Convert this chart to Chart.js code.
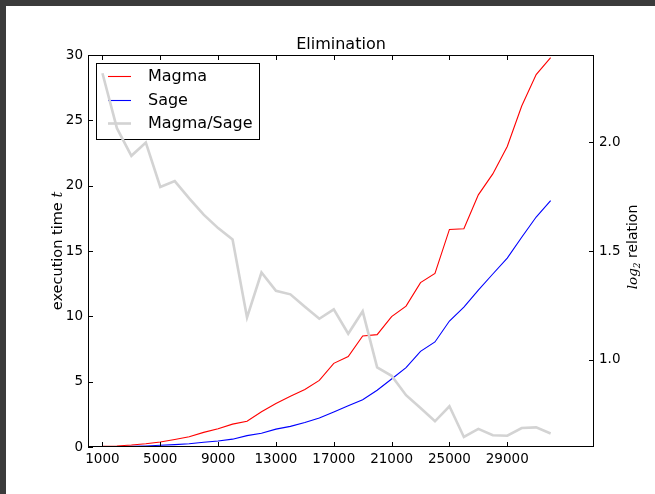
<!DOCTYPE html>
<html>
<head>
<meta charset="utf-8">
<script src="https://cdn.jsdelivr.net/npm/chart.js@4"></script>
<style>
  html, body { margin: 0; padding: 0; background: #fff; }
  canvas { display: block; }
</style>
</head>
<body>
<canvas id="chart" width="655" height="494"></canvas>
<script>
// === DATA ===
const sizes = [1000, 2000, 3000, 4000, 5000, 6000, 7000, 8000, 9000, 10000,
    11000, 12000, 13000, 14000, 15000, 16000, 17000, 18000, 19000, 20000,
    21000, 22000, 23000, 24000, 25000, 26000, 27000, 28000, 29000, 30000,
    31000, 32000];
const magmaTimes = [0.05, 0.08, 0.15, 0.25, 0.38, 0.58, 0.79, 1.12, 1.4, 1.75,
    1.97, 2.7, 3.33, 3.88, 4.4, 5.1, 6.4, 6.93, 8.5, 8.6,
    9.98, 10.78, 12.58, 13.28, 16.65, 16.7, 19.3, 20.9, 23.0, 26.1,
    28.5, 29.8];
const sageTimes = [0.01, 0.02, 0.05, 0.08, 0.13, 0.18, 0.25, 0.36, 0.46, 0.6,
    0.87, 1.05, 1.37, 1.58, 1.87, 2.22, 2.68, 3.16, 3.62, 4.34,
    5.2, 6.07, 7.32, 8.04, 9.64, 10.7, 12.0, 13.24, 14.46, 16.05,
    17.6, 18.85];
const logRelation = [2.316, 2.064, 1.937, 1.998, 1.794, 1.821, 1.742, 1.667, 1.605, 1.553,
    1.195, 1.401, 1.317, 1.301, 1.244, 1.189, 1.232, 1.12, 1.223, 0.966,
    0.927, 0.838, 0.779, 0.718, 0.787, 0.646, 0.683, 0.654, 0.652, 0.687,
    0.69, 0.662];
const xTicks = [1000, 5000, 9000, 13000, 17000, 21000, 25000, 29000];
const yTicks = [0, 5, 10, 15, 20, 25, 30];
const y2Ticks = [1.0, 1.5, 2.0];

const FONT = "'DejaVu Sans', sans-serif";
const MATH = "'DejaVu Serif', 'Liberation Serif', serif";

// === DECORATIONS: frame, inward ticks, title, axis titles, legend ===
const decor = {
    id: "decor",
    beforeDraw(chart) {
        const c = chart.ctx;
        c.save();
        c.fillStyle = "#fff";
        c.fillRect(0, 0, chart.width, chart.height);
        c.fillStyle = "#3b3b3b";
        c.fillRect(0, 0, chart.width, 6);
        c.fillRect(0, 0, 6, chart.height);
        c.restore();
    },
    // legend belongs to the first axes, so the twin (gray) line is drawn over it
    beforeDatasetsDraw(chart) {
        const c = chart.ctx;
        c.save();
        const lx = 96, ly = 63, lw = 163, lh = 76;
        c.fillStyle = "#fff";
        c.fillRect(lx, ly, lw, lh);
        c.strokeStyle = "#000";
        c.lineWidth = 1;
        c.strokeRect(lx + 0.5, ly + 0.5, lw, lh);
        c.font = "16px " + FONT;
        c.textAlign = "left";
        c.textBaseline = "middle";
        chart.data.datasets.forEach((ds, i) => {
            const ry = Math.round(76 + i * 23.5) + 0.5;
            c.strokeStyle = ds.borderColor;
            c.lineWidth = ds.borderWidth;
            c.beginPath();
            c.moveTo(108, ry); c.lineTo(131, ry);
            c.stroke();
            c.fillStyle = "#000";
            c.fillText(ds.label, 148, ry);
        });
        c.restore();
    },
    afterDraw(chart) {
        const c = chart.ctx;
        const a = chart.chartArea;
        const x = chart.scales.x, y = chart.scales.y, y2 = chart.scales.y2;
        c.save();
        c.strokeStyle = "#000";
        c.lineWidth = 1;
        c.strokeRect(Math.round(a.left) + 0.5, Math.round(a.top) + 0.5,
            Math.round(a.right - a.left) - 1, Math.round(a.bottom - a.top) - 1);

        // ticks pointing inward
        c.beginPath();
        x.ticks.forEach(t => {
            const px = Math.round(x.getPixelForValue(t.value)) + 0.5;
            c.moveTo(px, a.bottom); c.lineTo(px, a.bottom - 5);
            c.moveTo(px, a.top); c.lineTo(px, a.top + 5);
        });
        y.ticks.forEach(t => {
            const py = Math.round(y.getPixelForValue(t.value)) + 0.5;
            c.moveTo(a.left, py); c.lineTo(a.left + 5, py);
        });
        y2.ticks.forEach(t => {
            const py = Math.round(y2.getPixelForValue(t.value)) + 0.5;
            c.moveTo(a.right, py); c.lineTo(a.right - 5, py);
        });
        c.stroke();

        // title
        c.fillStyle = "#000";
        c.font = "16px " + FONT;
        c.textAlign = "center";
        c.textBaseline = "alphabetic";
        c.fillText("Elimination", (a.left + a.right) / 2, 49);

        // left axis title: execution time t
        c.save();
        c.translate(62, (a.top + a.bottom) / 2);
        c.rotate(-Math.PI / 2);
        c.textAlign = "left";
        c.font = "14.5px " + FONT;
        const p1 = "execution time ";
        const w1 = c.measureText(p1).width;
        c.font = "italic 14.5px " + MATH;
        const w2 = c.measureText("t").width;
        let sx = -(w1 + w2) / 2;
        c.font = "14.5px " + FONT;
        c.fillText(p1, sx, 0);
        c.font = "italic 14.5px " + MATH;
        c.fillText("t", sx + w1, 0);
        c.restore();

        // right axis title: log2 relation
        c.save();
        c.translate(637, (a.top + a.bottom) / 2 - 4);
        c.rotate(-Math.PI / 2);
        c.textAlign = "left";
        c.font = "italic 13.5px " + MATH;
        const wl = c.measureText("log").width;
        c.font = "italic 9px " + MATH;
        const ws = c.measureText("2").width;
        c.font = "14px " + FONT;
        const wr = c.measureText(" relation").width;
        sx = -(wl + ws + wr) / 2;
        c.font = "italic 13.5px " + MATH;
        c.fillText("log", sx, 0);
        c.font = "italic 9px " + MATH;
        c.fillText("2", sx + wl, 3);
        c.font = "14px " + FONT;
        c.fillText(" relation", sx + wl + ws, 0);
        c.restore();
        c.restore();
    }
};

const ctx = document.getElementById("chart").getContext("2d");
const toPoints = vals => vals.map((v, i) => ({ x: sizes[i], y: v }));

new Chart(ctx, {
    type: "line",
    data: {
        datasets: [
            { label: "Magma", data: toPoints(magmaTimes), yAxisID: "y",
              borderColor: "#ff0000", borderWidth: 1.1, order: 1 },
            { label: "Sage", data: toPoints(sageTimes), yAxisID: "y",
              borderColor: "#0000ff", borderWidth: 1.1, order: 1 },
            { label: "Magma/Sage", data: toPoints(logRelation), yAxisID: "y2",
              borderColor: "#d3d3d3", borderWidth: 2.6, order: 0 }
        ]
    },
    options: {
        responsive: false,
        animation: false,
        devicePixelRatio: 1,
        layout: { padding: { top: 55, left: 0, right: 0, bottom: 0 } },
        elements: { point: { radius: 0 }, line: { tension: 0 } },
        plugins: { legend: { display: false }, title: { display: false }, tooltip: { enabled: false } },
        scales: {
            x: {
                type: "linear", min: 0, max: 35000,
                grid: { display: false, drawTicks: false },
                border: { display: false },
                afterBuildTicks: s => { s.ticks = xTicks.map(v => ({ value: v })); },
                afterFit: s => { s.height = 47; },
                ticks: { padding: 4, color: "#000", font: { family: FONT, size: 13.5 },
                    maxRotation: 0, autoSkip: false, callback: v => String(v) }
            },
            y: {
                position: "left", min: 0, max: 30,
                grid: { display: false, drawTicks: false },
                border: { display: false },
                afterBuildTicks: s => { s.ticks = yTicks.map(v => ({ value: v })); },
                afterFit: s => { s.width = 88; },
                ticks: { padding: 5, color: "#000", font: { family: FONT, size: 13.5 },
                    callback: v => String(v) }
            },
            y2: {
                position: "right", min: 0.6, max: 2.4,
                grid: { display: false, drawTicks: false },
                border: { display: false },
                afterBuildTicks: s => { s.ticks = y2Ticks.map(v => ({ value: v })); },
                afterFit: s => { s.width = 61; },
                ticks: { padding: 5, color: "#000", font: { family: FONT, size: 13.5 },
                    callback: v => v.toFixed(1) }
            }
        }
    },
    plugins: [decor]
});
</script>
</body>
</html>
